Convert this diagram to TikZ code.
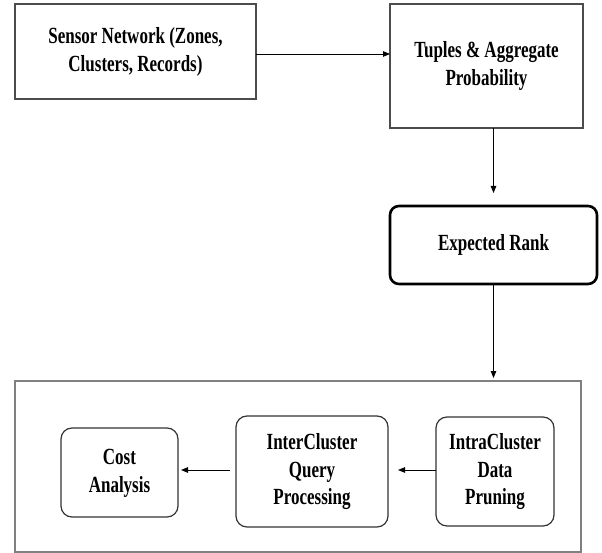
\documentclass[tikz,border=0pt]{standalone}
\usepackage{fontspec}
\setmainfont{Liberation Serif}
\usepackage{graphicx}
\usetikzlibrary{arrows.meta}
\newcommand{\tx}[1]{\scalebox{1}[1.36]{\begin{tabular}{@{}c@{}}#1\end{tabular}}}
\begin{document}
\begin{tikzpicture}[x=1pt,y=-1pt,
  every node/.style={inner sep=0pt,outer sep=0pt,font=\fontsize{17}{20.5}\selectfont\bfseries},
  sqbox/.style={draw=black!70,line width=1.3pt,fill=white},
  erbox/.style={draw=black,line width=2.6pt,rounded corners=9pt},
  bigbox/.style={draw=black!50,line width=1.3pt},
  rbox/.style={draw=black!80,line width=1.2pt,rounded corners=11pt},
  arr/.style={draw=black,line width=0.8pt,-{Triangle[length=7pt,width=5.5pt]}}]
\useasboundingbox (0,0) rectangle (602,553);
\node[sqbox,minimum width=241pt,minimum height=95pt] (sn) at (135.5,51.5)
  {\raisebox{21pt}{\tx{Sensor Network (Zones,\\Clusters, Records)}}};
\node[sqbox,minimum width=193pt,minimum height=124pt] (tp) at (486.5,66)
  {\tx{Tuples \& Aggregate\\Probability}};
\node[erbox,minimum width=207pt,minimum height=78pt] (er) at (493.5,245)
  {\tx{Expected Rank}};
\node[bigbox,minimum width=566pt,minimum height=171pt] (big) at (298,466.5) {};
\node[rbox,minimum width=117pt,minimum height=89pt] (ca) at (119.5,472.5)
  {\tx{Cost\\Analysis}};
\node[rbox,minimum width=152pt,minimum height=111pt] (ic) at (312,471.5)
  {\tx{InterCluster\\Query\\Processing}};
\node[rbox,minimum width=118pt,minimum height=109pt] (ia) at (495,471.5)
  {\tx{IntraCluster\\Data\\Pruning}};
\draw[arr] (sn.east |- 0,54) -- (tp.west |- 0,54);
\draw[arr,shorten >=13pt] (er.north |- tp.south) -- (er.north);
\draw[arr,shorten >=3pt] (er.south) -- (er.south |- big.north);
\draw[arr,shorten >=10pt] (ia.west |- 0,470) -- (ic.east |- 0,470);
\draw[arr,shorten <=6pt,shorten >=3pt] (ic.west |- 0,470) -- (ca.east |- 0,470);
\end{tikzpicture}
\end{document}
